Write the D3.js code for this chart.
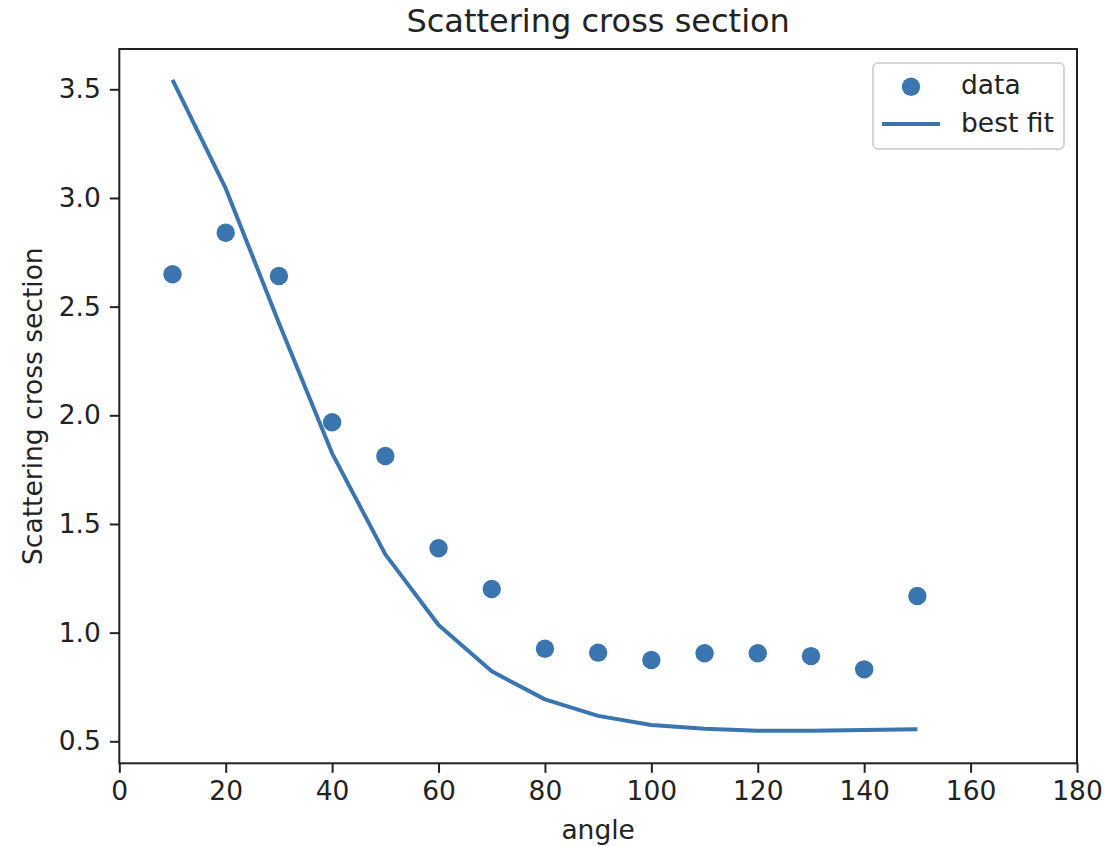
<!DOCTYPE html>
<html>
<head>
<meta charset="utf-8">
<script src="https://cdn.jsdelivr.net/npm/d3@7"></script>
<style>
  html, body { margin: 0; padding: 0; background: #fff; }
  svg { display: block; }
  text { font-family: "DejaVu Sans", sans-serif; fill: #222; }
</style>
</head>
<body>
<svg id="chart" width="1104" height="846"></svg>
<script>
const angles = [10, 20, 30, 40, 50, 60, 70, 80, 90, 100, 110, 120, 130, 140, 150];
const dataValues = [2.649, 2.840, 2.641, 1.968, 1.813, 1.388, 1.201, 0.926, 0.908, 0.874, 0.905, 0.905, 0.892, 0.831, 1.169];
const fitValues = [3.543, 3.044, 2.425, 1.825, 1.360, 1.035, 0.822, 0.693, 0.617, 0.575, 0.558, 0.549, 0.549, 0.552, 0.555];
const xTicks = [0, 20, 40, 60, 80, 100, 120, 140, 160, 180];
const yTicks = [0.5, 1.0, 1.5, 2.0, 2.5, 3.0, 3.5];
const titleText = "Scattering cross section";
const xLabel = "angle";
const yLabel = "Scattering cross section";
const seriesNames = ["data", "best fit"];

const color = "#3a75b0";
const svg = d3.select("#chart");
const pLeft = 119.3, pRight = 1077, pTop = 49, pBottom = 763.3;

const x = d3.scaleLinear().domain([0, 180]).range([pLeft, pRight]);
const y = d3.scaleLinear().domain([0.3988, 3.6854]).range([pBottom, pTop]);

// axes
const xAxis = svg.append("g").attr("transform", `translate(0,${pBottom})`)
  .call(d3.axisBottom(x).tickValues(xTicks).tickFormat(d3.format("d")).tickSize(9.5).tickPadding(8));
const yAxis = svg.append("g").attr("transform", `translate(${pLeft},0)`)
  .call(d3.axisLeft(y).tickValues(yTicks).tickFormat(d3.format(".1f")).tickSize(9.5).tickPadding(9));
[xAxis, yAxis].forEach(g => {
  g.select(".domain").remove();
  g.selectAll(".tick line").attr("stroke", "#222").attr("stroke-width", 2);
  g.selectAll(".tick text").style("font-family", "DejaVu Sans").style("font-size", "26.5px").attr("fill", "#222");
});

// frame
svg.append("rect").attr("x", pLeft).attr("y", pTop).attr("width", pRight - pLeft).attr("height", pBottom - pTop)
  .attr("fill", "none").attr("stroke", "#222").attr("stroke-width", 2);

// fit line
const line = d3.line().x((d, i) => x(angles[i])).y(d => y(d));
svg.append("path").datum(fitValues).attr("d", line)
  .attr("fill", "none").attr("stroke", color).attr("stroke-width", 4).attr("stroke-linejoin", "round");

// data points
svg.append("g").selectAll("circle").data(dataValues).join("circle")
  .attr("cx", (d, i) => x(angles[i])).attr("cy", d => y(d)).attr("r", 9.2).attr("fill", color);

// title & labels
svg.append("text").attr("x", (pLeft + pRight) / 2).attr("y", 32).attr("text-anchor", "middle")
  .style("font-size", "32px").text(titleText);
svg.append("text").attr("x", (pLeft + pRight) / 2).attr("y", 839).attr("text-anchor", "middle")
  .style("font-size", "26.5px").text(xLabel);
svg.append("text").attr("transform", `translate(42,${(pTop + pBottom) / 2}) rotate(-90)`).attr("text-anchor", "middle")
  .style("font-size", "26.5px").text(yLabel);

// legend
const lg = svg.append("g");
lg.append("rect").attr("x", 873).attr("y", 63).attr("width", 191).attr("height", 86).attr("rx", 5)
  .attr("fill", "rgba(255,255,255,0.8)").attr("stroke", "#d5d5d5").attr("stroke-width", 2);
lg.append("circle").attr("cx", 911).attr("cy", 86.7).attr("r", 9.2).attr("fill", color);
lg.append("line").attr("x1", 882).attr("x2", 940).attr("y1", 124).attr("y2", 124)
  .attr("stroke", color).attr("stroke-width", 4);
lg.append("text").attr("x", 961).attr("y", 93.5).style("font-size", "26.5px").text(seriesNames[0]);
lg.append("text").attr("x", 961).attr("y", 132).style("font-size", "26.5px").text(seriesNames[1]);
</script>
</body>
</html>
